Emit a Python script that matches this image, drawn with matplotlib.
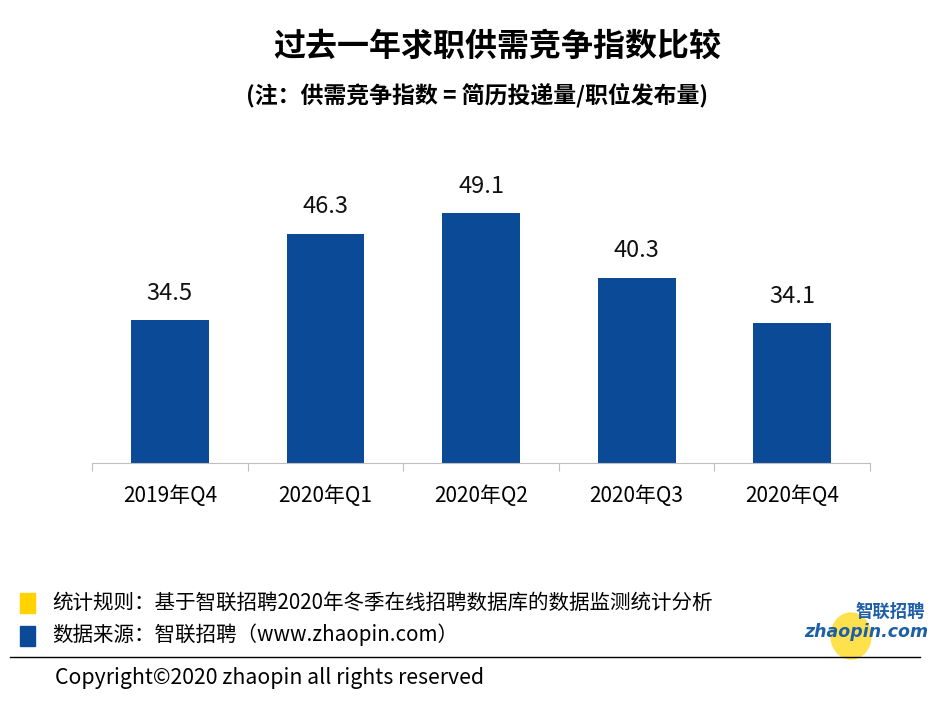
import matplotlib.pyplot as plt
from matplotlib.patches import Rectangle, Ellipse
import numpy as np

plt.rcParams['font.family'] = ['Noto Sans CJK SC', 'DejaVu Sans']

quarters = ['2019年Q4', '2020年Q1', '2020年Q2', '2020年Q3', '2020年Q4']
index_vals = [34.5, 46.3, 49.1, 40.3, 34.1]

bar_color = '#0B4A97'
yellow = '#FFD200'

fig = plt.figure(figsize=(9.51, 7.08), dpi=100)
ax = fig.add_axes([92/951, 1-463/708, 778/951, 313/708])

x = np.arange(len(quarters))
ax.bar(x, index_vals, width=0.5, color=bar_color)
ax.set_ylim(15, 57.7)
ax.set_xlim(-0.5, len(quarters)-0.5)
for xi, v in zip(x, index_vals):
    ax.text(xi, v + 2.1, f'{v}', ha='center', va='bottom', fontsize=17, color='#111111')

for s in ['top', 'right', 'left']:
    ax.spines[s].set_visible(False)
ax.spines['bottom'].set_color('#bfbfbf')
ax.set_yticks([])
ax.set_xticks(np.arange(-0.5, len(quarters)))
ax.set_xticklabels([])
ax.tick_params(axis='x', length=6, color='#bfbfbf', direction='out')
ax.set_xticks(x, minor=True)
ax.set_xticklabels(quarters, minor=True, fontsize=15)
ax.tick_params(axis='x', which='minor', length=0, pad=16)

fig.text(0.523, 1-47/708, '过去一年求职供需竞争指数比较', ha='center', va='center',
         fontsize=23, fontweight='bold')
fig.text(0.502, 1-95/708, '(注：供需竞争指数 = 简历投递量/职位发布量)', ha='center', va='center',
         fontsize=16.5, fontweight='bold')

# notes at the bottom
fig.patches.append(Rectangle((20/951, 1-613/708), 15/951, 20/708, transform=fig.transFigure,
                             color=yellow))
fig.patches.append(Rectangle((20/951, 1-646/708), 15/951, 20/708, transform=fig.transFigure,
                             color=bar_color))
fig.text(52/951, 1-603/708, '统计规则：基于智联招聘2020年冬季在线招聘数据库的数据监测统计分析',
         va='center', fontsize=14.8)
fig.text(52/951, 1-635/708, '数据来源：智联招聘（www.zhaopin.com）', va='center', fontsize=14.8)
fig.add_artist(plt.Line2D([10/951, 920/951], [1-657/708, 1-657/708], color='black', lw=1))
fig.text(55/951, 1-678/708, 'Copyright©2020 zhaopin all rights reserved', va='center', fontsize=15.3)

# logo
fig.patches.append(Ellipse((851/951, 1-636/708), 40/951, 46/708, transform=fig.transFigure,
                           color='#FFE14D'))
fig.text(890/951, 1-612/708, '智联招聘', ha='center', va='center', fontsize=12.5,
         fontweight='bold', color='#1F5FA8', style='italic')
fig.text(866/951, 1-632/708, 'zhaopin.com', ha='center', va='center', fontsize=12.5,
         fontweight='bold', color='#1F5FA8', style='italic', family='DejaVu Sans')

fig.savefig('out.png', dpi=100)
